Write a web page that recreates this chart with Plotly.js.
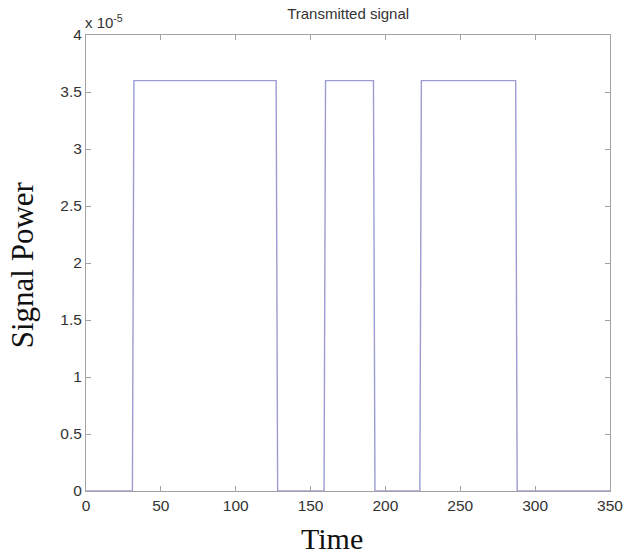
<!DOCTYPE html>
<html>
<head>
<meta charset="utf-8">
<script src="https://cdn.plot.ly/plotly-3.0.1.min.js"></script>
<style>
  html, body { margin: 0; padding: 0; background: #ffffff; }
  #chart { width: 625px; height: 556px; }
</style>
</head>
<body>
<div id="chart"></div>
<script>
// Pulse train breakpoints: time samples and transmitted power
const timeSamples = [0, 31, 32, 127, 128, 159, 160, 192, 193, 223, 224, 287, 288, 350];
const powerValues = [0, 0, 3.6e-5, 3.6e-5, 0, 0, 3.6e-5, 3.6e-5, 0, 0, 3.6e-5, 3.6e-5, 0, 0];

// Axis ticks (power shown in units of 1e-5)
const xTickValues = [0, 50, 100, 150, 200, 250, 300, 350];
const yTickLabels = ['0', '0.5', '1', '1.5', '2', '2.5', '3', '3.5', '4'];
const yScale = 1e-5;

const axisColor = '#a3a3a3';
const sansFont = 'Arial, Liberation Sans, sans-serif';
const serifFont = 'Liberation Serif, Times New Roman, serif';
const tickFont = { family: sansFont, size: 15.5, color: '#333333' };

const trace = {
  x: timeSamples,
  y: powerValues,
  type: 'scatter',
  mode: 'lines',
  line: { color: '#9c9cd2', width: 1.4 },
  cliponaxis: true,
  hoverinfo: 'skip'
};

const layout = {
  width: 625,
  height: 556,
  margin: { l: 86, r: 15, t: 35, b: 65 },
  paper_bgcolor: '#ffffff',
  plot_bgcolor: '#ffffff',
  showlegend: false,
  title: {
    text: 'Transmitted signal',
    font: { family: sansFont, size: 15, color: '#333333' },
    x: 0.557, xanchor: 'center', y: 0.976, yanchor: 'middle'
  },
  xaxis: {
    range: [0, 350],
    tickvals: xTickValues,
    ticktext: xTickValues.map(String),
    ticks: 'inside', ticklen: 5, tickcolor: axisColor, tickwidth: 1,
    showline: true, linecolor: axisColor, linewidth: 1, mirror: 'ticks',
    showgrid: false, zeroline: false,
    tickfont: tickFont
  },
  yaxis: {
    range: [0, 4e-5],
    tickvals: yTickLabels.map(t => parseFloat(t) * yScale),
    ticktext: yTickLabels,
    ticks: 'inside', ticklen: 5, tickcolor: axisColor, tickwidth: 1,
    showline: true, linecolor: axisColor, linewidth: 1, mirror: 'ticks',
    showgrid: false, zeroline: false,
    tickfont: tickFont
  },
  annotations: [
    {
      text: 'x 10<sup>-5</sup>',
      xref: 'paper', yref: 'paper',
      x: -0.005, y: 1.0, xanchor: 'left', yanchor: 'bottom',
      yshift: 2,
      showarrow: false,
      font: { family: sansFont, size: 15, color: '#333333' }
    },
    {
      text: 'Time',
      xref: 'paper', yref: 'paper',
      x: 0.47, y: 0, xanchor: 'center', yanchor: 'middle',
      yshift: -47,
      showarrow: false,
      font: { family: serifFont, size: 30, color: '#111111' }
    },
    {
      text: 'Signal Power',
      xref: 'paper', yref: 'paper',
      x: 0, y: 0.495, xanchor: 'center', yanchor: 'middle',
      xshift: -64,
      textangle: -90,
      showarrow: false,
      font: { family: serifFont, size: 31, color: '#111111' }
    }
  ]
};

Plotly.newPlot('chart', [trace], layout, { displayModeBar: false, staticPlot: true });
</script>
</body>
</html>
